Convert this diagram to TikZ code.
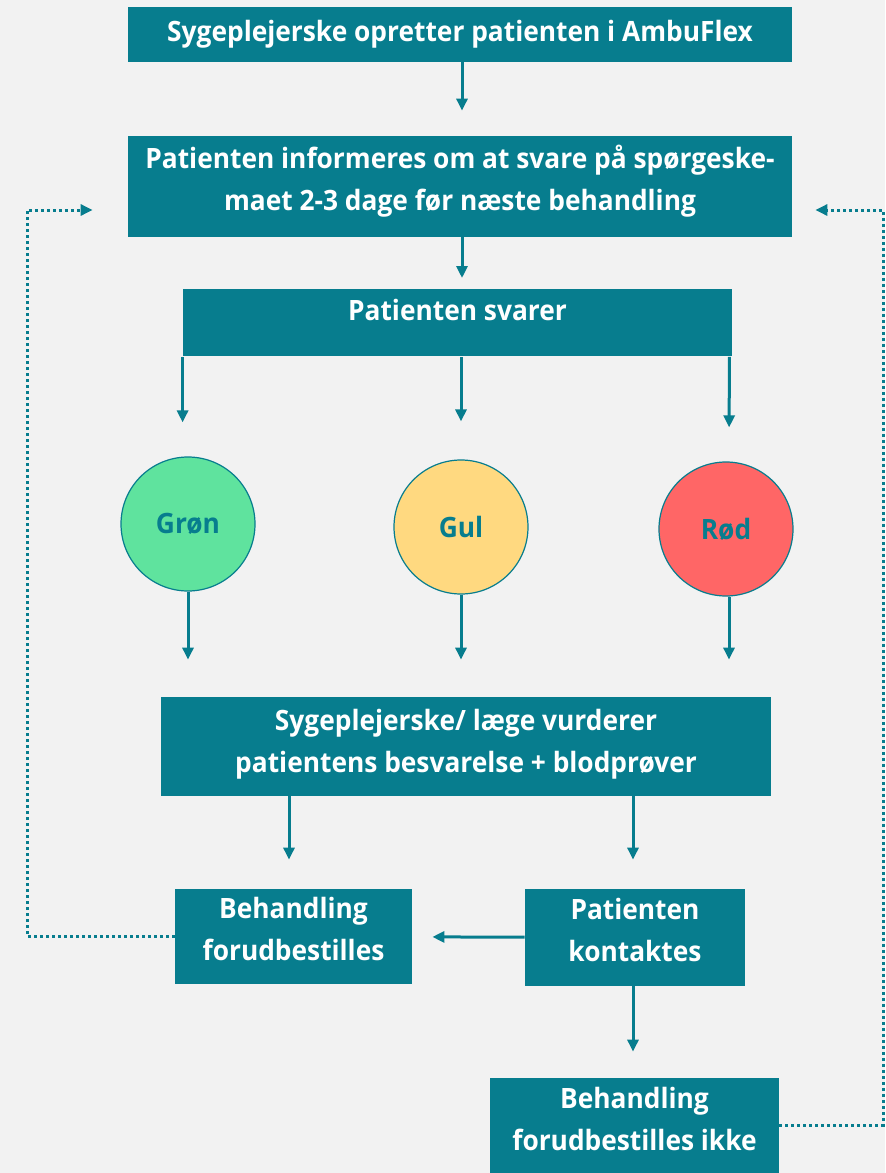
\documentclass[tikz,border=0pt]{standalone}
\usepackage{fontspec}
\setmainfont{Open Sans}[FakeStretch=0.94]
\usetikzlibrary{arrows.meta, positioning}
\definecolor{ambuTeal}{RGB}{7,125,142}
\definecolor{bgGray}{RGB}{242,242,242}
\definecolor{lightGreen}{RGB}{95,227,158}
\definecolor{lightYellow}{RGB}{255,217,128}
\definecolor{lightRed}{RGB}{255,102,102}
% two lines, drawn a little above the middle of their box
\newcommand{\twolines}[2][2.5pt]{\def\arraystretch{1.05}\raisebox{#1}[\height][\depth]{\begin{tabular}{@{}c@{}}#2\end{tabular}}}

\tikzset{
  stepbox/.style={fill=ambuTeal, text=white, font=\fontsize{14}{20}\selectfont\bfseries, align=center, inner sep=0pt},
  answer/.style={circle, draw=ambuTeal, line width=0.6pt, minimum size=67pt, text=ambuTeal, font=\fontsize{14}{20}\selectfont\bfseries},
  arr/.style={-{Triangle[width=5.5pt,length=6pt]}, line width=1.5pt, ambuTeal},
  backloop/.style={-{Triangle[width=5.5pt,length=6pt]}, line width=1.5pt, ambuTeal, dash pattern=on 1.5pt off 1.5pt}
}

\begin{document}
\begin{tikzpicture}[x=0.5pt, y=-0.5pt]
    \fill[bgGray] (0,0) rectangle (885,1173);
    \useasboundingbox (0,0) rectangle (885,1173);

    % boxes
    \node[stepbox, minimum width=332pt, minimum height=27.5pt] (opret) at (460,34.5) {Sygeplejerske opretter patienten i AmbuFlex};
    \node[stepbox, minimum width=332pt, minimum height=50.5pt] (inform) at (460,186.5) {\twolines{Patienten informeres om at svare på spørgeske-\\maet 2-3 dage før næste behandling}};
    \node[stepbox, minimum width=274.5pt, text height=15.5pt, text depth=18pt, anchor=north] (svar) at (457.5,289) {Patienten svarer};

    % answers
    \node[answer, fill=lightGreen] (groen) at (188,524) {Grøn};
    \node[answer, fill=lightYellow] (gul) at (461,527) {Gul};
    \node[answer, fill=lightRed] (roed) at (726,529) {Rød};

    \node[stepbox, minimum width=305pt, minimum height=49.5pt] (vurder) at (466,746.5) {\twolines[1.5pt]{Sygeplejerske/ læge vurderer\\patientens besvarelse + blodprøver}};
    \node[stepbox, minimum width=118.5pt, minimum height=47.5pt] (bestil) at (293.5,936.5) {\twolines{Behandling\\forudbestilles}};
    \node[stepbox, minimum width=110pt, minimum height=48.5pt] (kontakt) at (635,937.5) {\twolines{Patienten\\kontaktes}};
    \node[stepbox, minimum width=144.5pt, minimum height=47.5pt] (ikke) at (634.5,1125.5) {\twolines[2pt]{Behandling\\forudbestilles ikke}};

    % arrows
    \draw[arr, shorten >=12.5pt] (opret.south -| 462,0) -- (inform.north -| 462,0);
    \draw[arr, shorten >=5.5pt] (inform.south -| 462,0) -- (svar.north -| 462,0);
    \draw[arr, shorten >=17pt] (svar.south west) -- (svar.south west |- groen.north);
    \draw[arr, shorten >=19pt] (gul.north |- svar.south) -- (gul.north);
    \draw[arr, shorten >=17pt] (svar.south east) ++(-3,0) -- (roed.north -| 729,0);
    \draw[arr, shorten >=18.5pt] (groen.south) -- (groen.south |- vurder.north);
    \draw[arr, shorten >=18.5pt] (gul.south) -- (gul.south |- vurder.north);
    \draw[arr, shorten >=18.5pt] (roed.south) ++(3,0) -- (vurder.north -| 729,0);
    \draw[arr, shorten >=14.5pt] (bestil.north -| 289,0) ++(0,-93) -- (bestil.north -| 289,0);
    \draw[arr, shorten >=14.5pt] (kontakt.north -| 633,0) ++(0,-93) -- (kontakt.north -| 633,0);
    \draw[arr, shorten >=10pt] (kontakt) -- (bestil);
    \draw[arr, shorten >=13pt] (kontakt.south -| 633,0) -- (ikke.north -| 633,0);

    % dotted loops back
    \coordinate (lft) at (27,210);
    \coordinate (rgt) at (883,210);
    \draw[backloop, shorten >=17.5pt] (bestil.west) -| (lft) -- (lft -| inform.west);
    \draw[backloop, shorten >=11.5pt] (ikke.east) -| (rgt) -- (rgt -| inform.east);
\end{tikzpicture}
\end{document}
